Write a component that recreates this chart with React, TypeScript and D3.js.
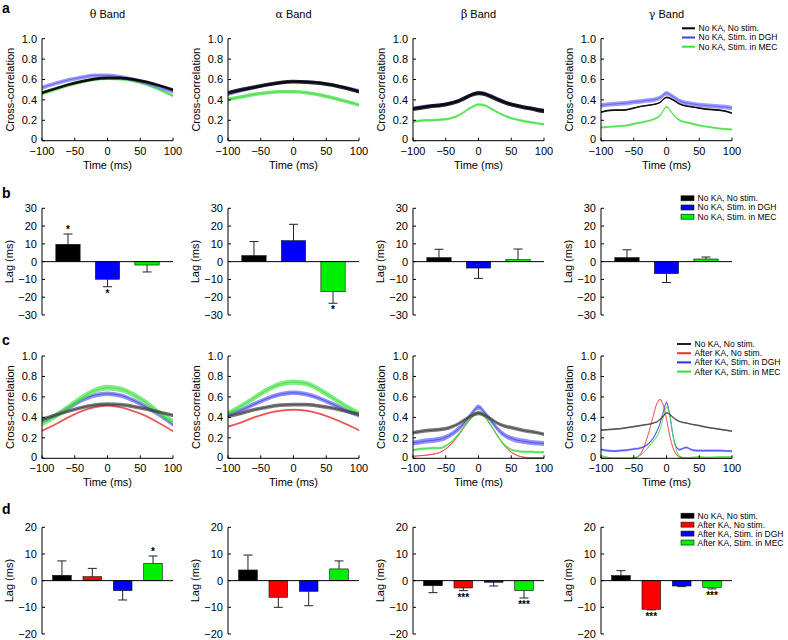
import React from "react";
import * as d3 from "d3";

const W = 788;
const H = 640;
const FONT = "'Liberation Sans', Arial, sans-serif";

// band names (column titles)
const bandGreek = ["θ", "α", "β", "γ"];
const timeTicks = [-100, -50, 0, 50, 100];
const corrTicks = [0, 0.2, 0.4, 0.6, 0.8, 1.0];
const lagTicksB = [30, 20, 10, 0, -10, -20, -30];
const lagTicksD = [20, 10, 0, -10, -20];

const legendA = ["No KA, No stim.", "No KA, Stim. in DGH", "No KA, Stim. in MEC"];
const legendC = ["No KA, No stim.", "After KA, No stim.", "After KA, Stim. in DGH", "After KA, Stim. in MEC"];

// time grids (ms)
const t20 = [-100, -80, -60, -40, -20, 0, 20, 40, 60, 80, 100];
const t10 = [-100, -90, -80, -70, -60, -50, -40, -30, -20, -10, 0, 10, 20, 30, 40, 50, 60, 70, 80, 90, 100];
const tFine = [-100, -90, -80, -70, -60, -50, -40, -30, -25, -20, -15, -10, -5, 0, 5, 10, 15, 20, 30, 40, 50, 60, 70, 80, 90, 100];

// panel a: cross-correlation, no KA
const aThetaNoStim = [0.47, 0.51, 0.55, 0.58, 0.605, 0.615, 0.615, 0.6, 0.575, 0.54, 0.5];
const aThetaDGH = [0.52, 0.56, 0.595, 0.62, 0.64, 0.64, 0.625, 0.6, 0.565, 0.525, 0.48];
const aThetaMEC = [0.46, 0.5, 0.54, 0.575, 0.6, 0.61, 0.605, 0.585, 0.55, 0.5, 0.44];
const aAlphaNoStim = [0.47, 0.5, 0.525, 0.55, 0.57, 0.58, 0.575, 0.565, 0.545, 0.515, 0.48];
const aAlphaDGH = [0.45, 0.485, 0.515, 0.545, 0.565, 0.58, 0.58, 0.57, 0.55, 0.525, 0.495];
const aAlphaMEC = [0.405, 0.43, 0.455, 0.47, 0.48, 0.48, 0.47, 0.45, 0.42, 0.385, 0.35];
const aBetaNoStim = [0.31, 0.32, 0.33, 0.34, 0.345, 0.355, 0.37, 0.39, 0.42, 0.45, 0.465, 0.455, 0.43, 0.4, 0.375, 0.355, 0.34, 0.325, 0.315, 0.3, 0.29];
const aBetaDGH = [0.32, 0.33, 0.34, 0.345, 0.35, 0.36, 0.375, 0.395, 0.425, 0.455, 0.475, 0.465, 0.44, 0.41, 0.385, 0.36, 0.345, 0.33, 0.32, 0.31, 0.3];
const aBetaMEC = [0.185, 0.195, 0.2, 0.2, 0.205, 0.21, 0.225, 0.25, 0.29, 0.33, 0.355, 0.345, 0.31, 0.275, 0.245, 0.22, 0.205, 0.19, 0.18, 0.17, 0.16];
const aGammaNoStim = [0.28, 0.295, 0.3, 0.3, 0.305, 0.32, 0.335, 0.345, 0.355, 0.375, 0.425, 0.4, 0.36, 0.34, 0.33, 0.32, 0.31, 0.305, 0.3, 0.29, 0.27];
const aGammaDGH = [0.345, 0.355, 0.36, 0.365, 0.37, 0.38, 0.385, 0.395, 0.4, 0.42, 0.465, 0.43, 0.39, 0.37, 0.36, 0.35, 0.345, 0.34, 0.335, 0.33, 0.32];
const aGammaMEC = [0.13, 0.135, 0.14, 0.145, 0.15, 0.165, 0.175, 0.19, 0.21, 0.245, 0.33, 0.26, 0.2, 0.18, 0.165, 0.15, 0.14, 0.13, 0.12, 0.115, 0.11];

// panel b: lag (ms), mean and error
const bTheta = [9.75, -9.9, -1.9];
const bThetaErr = [5.8, 4.2, 3.9];
const bThetaStars = ["*", "*", ""];
const bAlpha = [3.4, 11.8, -16.9];
const bAlphaErr = [7.9, 9.2, 6.5];
const bAlphaStars = ["", "", "*"];
const bBeta = [2.25, -3.6, 1.1];
const bBetaErr = [4.7, 5.8, 6.0];
const bGamma = [2.25, -6.75, 1.5];
const bGammaErr = [4.4, 5.0, 1.1];

// panel c: cross-correlation, after KA
const cThetaNoKA = [0.38, 0.42, 0.46, 0.495, 0.52, 0.53, 0.525, 0.505, 0.48, 0.45, 0.42];
const cThetaKA = [0.27, 0.33, 0.4, 0.46, 0.5, 0.515, 0.5, 0.46, 0.41, 0.34, 0.265];
const cThetaDGH = [0.36, 0.42, 0.49, 0.565, 0.615, 0.63, 0.615, 0.565, 0.5, 0.42, 0.33];
const cThetaMEC = [0.34, 0.41, 0.5, 0.59, 0.66, 0.69, 0.675, 0.62, 0.54, 0.44, 0.36];
const cAlphaNoKA = [0.41, 0.44, 0.475, 0.5, 0.52, 0.525, 0.525, 0.51, 0.49, 0.46, 0.43];
const cAlphaKA = [0.31, 0.35, 0.4, 0.44, 0.465, 0.475, 0.465, 0.435, 0.39, 0.335, 0.275];
const cAlphaDGH = [0.43, 0.47, 0.53, 0.585, 0.625, 0.64, 0.625, 0.585, 0.53, 0.47, 0.42];
const cAlphaMEC = [0.44, 0.51, 0.59, 0.67, 0.725, 0.745, 0.73, 0.67, 0.59, 0.51, 0.44];
const cBetaNoKA = [0.25, 0.26, 0.27, 0.275, 0.28, 0.29, 0.31, 0.34, 0.38, 0.42, 0.44, 0.42, 0.38, 0.34, 0.315, 0.3, 0.285, 0.27, 0.26, 0.25, 0.235];
const cBetaKA = [0.02, 0.025, 0.03, 0.04, 0.055, 0.09, 0.15, 0.23, 0.32, 0.4, 0.44, 0.4, 0.31, 0.21, 0.12, 0.06, 0.025, 0.01, 0.005, 0.005, 0.005];
const cBetaDGH = [0.15, 0.16, 0.17, 0.175, 0.185, 0.205, 0.24, 0.29, 0.36, 0.44, 0.5, 0.44, 0.36, 0.28, 0.225, 0.195, 0.175, 0.165, 0.155, 0.15, 0.145];
const cBetaMEC = [0.08, 0.09, 0.095, 0.1, 0.1, 0.12, 0.17, 0.24, 0.33, 0.41, 0.455, 0.41, 0.31, 0.21, 0.13, 0.085, 0.07, 0.065, 0.065, 0.06, 0.06];
const cGammaNoKA = [0.275, 0.28, 0.285, 0.29, 0.3, 0.31, 0.32, 0.33, 0.335, 0.345, 0.355, 0.38, 0.41, 0.445, 0.43, 0.4, 0.375, 0.36, 0.345, 0.33, 0.32, 0.305, 0.295, 0.285, 0.275, 0.265];
const cGammaKA = [0, 0, 0, 0, 0, 0, 0.04, 0.19, 0.3, 0.42, 0.53, 0.575, 0.52, 0.38, 0.22, 0.1, 0.04, 0.01, 0, 0, 0, 0, 0, 0, 0, 0];
const cGammaDGH = [0.085, 0.075, 0.07, 0.075, 0.08, 0.09, 0.1, 0.13, 0.16, 0.2, 0.26, 0.34, 0.45, 0.545, 0.42, 0.22, 0.11, 0.085, 0.105, 0.08, 0.075, 0.075, 0.075, 0.075, 0.072, 0.07];
const cGammaMEC = [0.025, 0.01, 0, 0, 0, 0.005, 0.03, 0.09, 0.13, 0.17, 0.21, 0.28, 0.4, 0.5, 0.43, 0.22, 0.08, 0.02, 0.005, 0.01, 0.015, 0.01, 0.01, 0.015, 0.015, 0.015];

// panel d: lag (ms)
const dTheta = [2.0, 1.5, -3.75, 6.5];
const dThetaErr = [5.4, 3.1, 3.5, 2.75];
const dThetaStars = ["", "", "", "*"];
const dAlpha = [4.0, -6.25, -4.0, 4.4];
const dAlphaErr = [5.6, 3.75, 5.4, 3.0];
const dBeta = [-1.9, -2.75, -0.6, -3.75];
const dBetaErr = [2.6, 1.0, 1.4, 2.75];
const dBetaStars = ["", "***", "", "***"];
const dGamma = [1.9, -10.75, -2.0, -2.5];
const dGammaErr = [1.85, 0.2, 0.25, 0.6];
const dGammaStars = ["", "***", "", "***"];

// layout
const colX = [42, 228, 413, 601];
const plotW = 131;

const lineColA = { black: "#000000", blue: "#5a5af5", green: "#45e045" };
const lineColC = { black: "#444444", red: "#e84545", blue: "#4848ee", green: "#40e040" };
const barCol = { black: "#000000", red: "#ff0000", blue: "#0000ff", green: "#00ee00" };

type Series = { values: number[]; sem: number; color: string; opacity: number };

const minus = (v: number) => (v < 0 ? "\u2212" + Math.abs(v) : String(v));

function LinePanel({ x0, top, bottom, times, series }: { x0: number; top: number; bottom: number; times: number[]; series: Series[] }) {
  const x = d3.scaleLinear().domain([-100, 100]).range([x0, x0 + plotW]);
  const y = d3.scaleLinear().domain([0, 1]).range([bottom, top]);
  return (
    <g>
      {series.map((s, k) => {
        const pts = times.map((t, i) => ({ t, v: s.values[i] }));
        const area = d3
          .area<{ t: number; v: number }>()
          .x((d) => x(d.t))
          .y0((d) => y(Math.max(0, d.v - s.sem)))
          .y1((d) => y(Math.max(0, d.v + s.sem)))
          .curve(d3.curveMonotoneX);
        const line = d3
          .line<{ t: number; v: number }>()
          .x((d) => x(d.t))
          .y((d) => y(d.v))
          .curve(d3.curveMonotoneX);
        return (
          <g key={k}>
            <path d={area(pts) || ""} fill={s.color} opacity={s.opacity} />
            <path d={line(pts) || ""} fill="none" stroke={s.color} strokeWidth={1} opacity={0.85} />
          </g>
        );
      })}
      <line x1={x0} x2={x0} y1={top} y2={bottom} stroke="#000" />
      <line x1={x0} x2={x0 + plotW} y1={bottom} y2={bottom} stroke="#000" />
      {corrTicks.map((v) => (
        <g key={v}>
          <line x1={x0} x2={x0 + 3} y1={y(v)} y2={y(v)} stroke="#000" />
          <text x={x0 - 5} y={y(v)} dy={v === 0 ? "0.2em" : "0.35em"} textAnchor="end" fontSize={11}>
            {v === 0 ? "0" : v.toFixed(1)}
          </text>
        </g>
      ))}
      {timeTicks.map((t) => (
        <g key={t}>
          <line x1={x(t)} x2={x(t)} y1={bottom} y2={bottom - 3} stroke="#000" />
          <text x={x(t)} y={bottom + 14} textAnchor="middle" fontSize={11}>
            {minus(t)}
          </text>
        </g>
      ))}
      <text x={x0 + plotW / 2} y={bottom + 28} textAnchor="middle" fontSize={11}>
        Time (ms)
      </text>
      <text transform={`translate(${x0 - 28},${(top + bottom) / 2}) rotate(-90)`} textAnchor="middle" fontSize={11}>
        Cross-correlation
      </text>
    </g>
  );
}

function BarPanel({ x0, top, bottom, lim, ticks, values, errs, stars, colors }: {
  x0: number; top: number; bottom: number; lim: number; ticks: number[];
  values: number[]; errs: number[]; stars: string[]; colors: string[];
}) {
  const y = d3.scaleLinear().domain([-lim, lim]).range([bottom, top]);
  const x = d3
    .scaleBand<number>()
    .domain(values.map((_, i) => i))
    .range([x0, x0 + plotW])
    .paddingInner(0.385)
    .paddingOuter(0.35);
  return (
    <g>
      {values.map((v, i) => {
        const cx = (x(i) as number) + x.bandwidth() / 2;
        const sign = v >= 0 ? 1 : -1;
        const capY = y(v + sign * errs[i]);
        return (
          <g key={i}>
            <line x1={cx} x2={cx} y1={y(v)} y2={capY} stroke="#222" />
            <line x1={cx - 4.5} x2={cx + 4.5} y1={capY} y2={capY} stroke="#222" />
            <rect
              x={x(i)}
              y={Math.min(y(v), y(0))}
              width={x.bandwidth()}
              height={Math.abs(y(v) - y(0))}
              fill={colors[i]}
              stroke="#111"
              strokeWidth={0.6}
            />
            {stars[i] ? (
              <text x={cx} y={sign > 0 ? capY - 0.5 : capY + 10} textAnchor="middle" fontSize={10} fontWeight="bold">
                {stars[i]}
              </text>
            ) : null}
          </g>
        );
      })}
      <line x1={x0} x2={x0 + plotW} y1={y(0)} y2={y(0)} stroke="#000" />
      <line x1={x0} x2={x0} y1={top} y2={bottom} stroke="#000" />
      {ticks.map((v) => (
        <g key={v}>
          <line x1={x0} x2={x0 + 3} y1={y(v)} y2={y(v)} stroke="#000" />
          <text x={x0 - 5} y={y(v)} dy="0.35em" textAnchor="end" fontSize={11}>
            {minus(v)}
          </text>
        </g>
      ))}
      <text transform={`translate(${x0 - 29},${(top + bottom) / 2}) rotate(-90)`} textAnchor="middle" fontSize={11}>
        Lag (ms)
      </text>
    </g>
  );
}

function Legend({ x, y0, step, labels, colors, kind, lineLen }: {
  x: number; y0: number; step: number; labels: string[]; colors: string[]; kind: "line" | "rect"; lineLen: number;
}) {
  return (
    <g fontSize={8.5}>
      {labels.map((l, i) => {
        const yy = y0 + i * step;
        return (
          <g key={l}>
            {kind === "line" ? (
              <line x1={x} x2={x + lineLen} y1={yy} y2={yy} stroke={colors[i]} strokeWidth={2} />
            ) : (
              <rect x={x} y={yy - 2.5} width={lineLen} height={5} fill={colors[i]} stroke="#111" strokeWidth={0.6} />
            )}
            <text x={x + lineLen + 3.5} y={yy} dy="0.35em">
              {l}
            </text>
          </g>
        );
      })}
    </g>
  );
}

export default function App() {
  const A = { top: 38.7, bottom: 140.7 };
  const B = { top: 208.3, bottom: 315 };
  const C = { top: 356, bottom: 458.3 };
  const D = { top: 527.3, bottom: 634 };

  const semA = [
    [0.014, 0.02, 0.014],
    [0.018, 0.012, 0.018],
    [0.012, 0.015, 0.02],
    [0.01, 0.022, 0.008],
  ];
  const rowA = [
    { times: t20, vals: [aThetaMEC, aThetaDGH, aThetaNoStim] },
    { times: t20, vals: [aAlphaMEC, aAlphaDGH, aAlphaNoStim] },
    { times: t10, vals: [aBetaMEC, aBetaDGH, aBetaNoStim] },
    { times: t10, vals: [aGammaMEC, aGammaDGH, aGammaNoStim] },
  ];
  const colorsA = [lineColA.green, lineColA.blue, lineColA.black];
  const opA = [0.75, 0.6, 0.85];

  // drawing order: red, blue, green, black (no KA) on top
  const semC = [
    [0.01, 0.022, 0.028, 0.018],
    [0.01, 0.022, 0.026, 0.018],
    [0.005, 0.025, 0.012, 0.018],
    [0.005, 0.01, 0.005, 0.008],
  ];
  const rowC = [
    { times: t20, vals: [cThetaKA, cThetaDGH, cThetaMEC, cThetaNoKA] },
    { times: t20, vals: [cAlphaKA, cAlphaDGH, cAlphaMEC, cAlphaNoKA] },
    { times: t10, vals: [cBetaKA, cBetaDGH, cBetaMEC, cBetaNoKA] },
    { times: tFine, vals: [cGammaKA, cGammaDGH, cGammaMEC, cGammaNoKA] },
  ];
  const colorsC = [lineColC.red, lineColC.blue, lineColC.green, lineColC.black];
  const opC = [0.75, 0.6, 0.65, 0.7];

  const rowB = [
    { v: bTheta, e: bThetaErr, s: bThetaStars },
    { v: bAlpha, e: bAlphaErr, s: bAlphaStars },
    { v: bBeta, e: bBetaErr, s: ["", "", ""] },
    { v: bGamma, e: bGammaErr, s: ["", "", ""] },
  ];
  const rowD = [
    { v: dTheta, e: dThetaErr, s: dThetaStars },
    { v: dAlpha, e: dAlphaErr, s: ["", "", "", ""] },
    { v: dBeta, e: dBetaErr, s: dBetaStars },
    { v: dGamma, e: dGammaErr, s: dGammaStars },
  ];

  return (
    <>
      <style>{`body{margin:0}`}</style>
      <svg width={W} height={H} style={{ display: "block", background: "#fff" }} fontFamily={FONT}>
        {/* panel letters */}
        {[
          ["a", 13],
          ["b", 198],
          ["c", 345],
          ["d", 514],
        ].map(([l, yy]) => (
          <text key={l as string} x={2} y={yy as number} fontSize={14} fontWeight="bold">
            {l}
          </text>
        ))}
        {/* column titles */}
        {bandGreek.map((g, i) => (
          <text key={g} x={colX[i] + plotW / 2} y={18} textAnchor="middle" fontSize={11}>
            <tspan fontFamily="'DejaVu Serif', serif">{g}</tspan> Band
          </text>
        ))}

        {rowA.map((p, i) => (
          <LinePanel
            key={"a" + i}
            x0={colX[i]}
            top={A.top}
            bottom={A.bottom}
            times={p.times}
            series={p.vals.map((v, k) => ({ values: v, sem: semA[i][k], color: colorsA[k], opacity: opA[k] }))}
          />
        ))}
        {rowB.map((p, i) => (
          <BarPanel
            key={"b" + i}
            x0={colX[i]}
            top={B.top}
            bottom={B.bottom}
            lim={30}
            ticks={lagTicksB}
            values={p.v}
            errs={p.e}
            stars={p.s}
            colors={[barCol.black, barCol.blue, barCol.green]}
          />
        ))}
        {rowC.map((p, i) => (
          <LinePanel
            key={"c" + i}
            x0={colX[i]}
            top={C.top}
            bottom={C.bottom}
            times={p.times}
            series={p.vals.map((v, k) => ({ values: v, sem: semC[i][k], color: colorsC[k], opacity: opC[k] }))}
          />
        ))}
        {rowD.map((p, i) => (
          <BarPanel
            key={"d" + i}
            x0={colX[i]}
            top={D.top}
            bottom={D.bottom}
            lim={20}
            ticks={lagTicksD}
            values={p.v}
            errs={p.e}
            stars={p.s}
            colors={[barCol.black, barCol.red, barCol.blue, barCol.green]}
          />
        ))}

        <Legend x={682} y0={28.3} step={9.2} labels={legendA} colors={["#000", "#3c3cf0", "#3ee03e"]} kind="line" lineLen={13} />
        <Legend x={681} y0={198.3} step={9.2} labels={legendA} colors={[barCol.black, barCol.blue, barCol.green]} kind="rect" lineLen={13} />
        <Legend x={677} y0={344} step={9.2} labels={legendC} colors={["#222", "#ee3030", "#3030ee", "#30e030"]} kind="line" lineLen={14} />
        <Legend x={681} y0={515.7} step={8.95} labels={legendC} colors={[barCol.black, barCol.red, barCol.blue, barCol.green]} kind="rect" lineLen={13} />
      </svg>
    </>
  );
}
